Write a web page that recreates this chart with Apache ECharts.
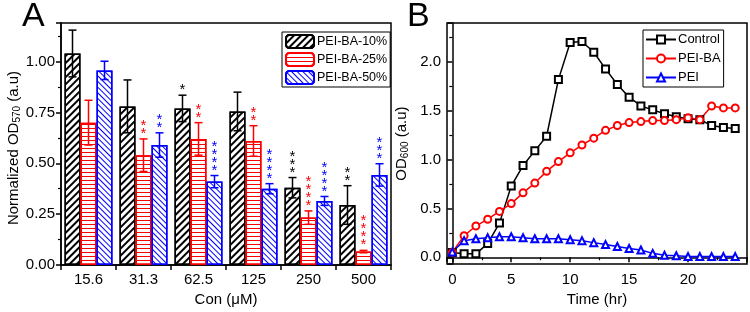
<!DOCTYPE html>
<html>
<head>
<meta charset="utf-8">
<script src="https://cdn.jsdelivr.net/npm/echarts@6/dist/echarts.min.js"></script>
<style>
html, body { margin: 0; padding: 0; background: #fff; }
#main { width: 750px; height: 312px; }
</style>
</head>
<body>
<div id="main"></div>
<script>
// panel A: cell viability
var concLabels = ['15.6', '31.3', '62.5', '125', '250', '500'];
var ba10 = [1.04, 0.78, 0.77, 0.755, 0.38, 0.295];
var ba10Err = [0.115, 0.13, 0.065, 0.095, 0.05, 0.095];
var ba25 = [0.70, 0.54, 0.62, 0.61, 0.233, 0.066];
var ba25Err = [0.11, 0.08, 0.08, 0.075, 0.033, 0.006];
var ba50 = [0.957, 0.59, 0.41, 0.375, 0.315, 0.443];
var ba50Err = [0.045, 0.06, 0.03, 0.025, 0.022, 0.055];
var ba10Stars = ['', '', '*', '', '***', '**'];
var ba25Stars = ['', '**', '**', '**', '****', '****'];
var ba50Stars = ['', '**', '****', '****', '****', '***'];

// panel B: growth curves
var hours = [0, 1, 2, 3, 4, 5, 6, 7, 8, 9, 10, 11, 12, 13, 14, 15, 16, 17, 18, 19, 20, 21, 22, 23, 24];
var control = [0.05, 0.035, 0.035, 0.14, 0.35, 0.73, 0.94, 1.09, 1.24, 1.82, 2.20, 2.21, 2.10, 1.93, 1.77, 1.64, 1.55, 1.51, 1.47, 1.44, 1.42, 1.41, 1.35, 1.33, 1.32];
var peiBA = [0.05, 0.22, 0.32, 0.39, 0.47, 0.55, 0.66, 0.76, 0.88, 0.98, 1.07, 1.15, 1.22, 1.30, 1.35, 1.38, 1.39, 1.40, 1.40, 1.41, 1.43, 1.41, 1.55, 1.53, 1.53];
var pei = [0.055, 0.17, 0.19, 0.20, 0.21, 0.21, 0.20, 0.19, 0.19, 0.19, 0.18, 0.17, 0.15, 0.13, 0.11, 0.09, 0.075, 0.04, 0.02, 0.015, 0.007, 0.007, 0.007, 0.007, 0.007];

var FONT = 'Liberation Sans';
var BAR_W = 16;

function pairs(xs, ys) {
    return xs.map(function (x, i) { return [x, ys[i]]; });
}

function errData(vals, errs) {
    return vals.map(function (v, i) { return [i, v, errs[i]]; });
}

var errRender = function (offset, color, stars) {
    return function (params, api) {
        var i = api.value(0), v = api.value(1), e = api.value(2);
        var hi = api.coord([i, v + e]);
        var lo = api.coord([i, v - e]);
        var x = hi[0] + offset;
        var st = { stroke: color, lineWidth: 1.5 };
        var kids = [
            { type: 'line', shape: { x1: x, y1: hi[1], x2: x, y2: lo[1] }, style: st },
            { type: 'line', shape: { x1: x - 4, y1: hi[1], x2: x + 4, y2: hi[1] }, style: st },
            { type: 'line', shape: { x1: x - 4, y1: lo[1], x2: x + 4, y2: lo[1] }, style: st }
        ];
        var s = stars[i];
        if (s) {
            kids.push({
                type: 'text', x: x, y: hi[1] - 1,
                style: {
                    text: s.split('').join('\n'), fill: color, align: 'center',
                    verticalAlign: 'bottom', fontSize: 15, fontFamily: FONT, lineHeight: 8
                }
            });
        }
        return { type: 'group', children: kids };
    };
};

var barSeries = function (name, vals, color, decal) {
    return {
        name: name, type: 'bar', xAxisIndex: 0, yAxisIndex: 0,
        barWidth: BAR_W, barGap: '0%',
        itemStyle: { color: '#fff', borderColor: color, borderWidth: 1.5, decal: decal },
        data: vals
    };
};

var errSeries = function (vals, errs, offset, color, stars) {
    return {
        type: 'custom', xAxisIndex: 0, yAxisIndex: 0,
        renderItem: errRender(offset, color, stars),
        data: errData(vals, errs), z: 5
    };
};

var lineSeries = function (name, ys, color, symbol) {
    return {
        name: name, type: 'line', xAxisIndex: 1, yAxisIndex: 1,
        symbol: symbol, symbolSize: 7,
        lineStyle: { color: color, width: 1.5 },
        itemStyle: { color: color, borderWidth: 1.5 },
        data: pairs(hours, ys)
    };
};

var axisText = { color: '#000', fontSize: 15, fontFamily: FONT };
var blackLine = { lineStyle: { color: '#000', width: 1.5 } };

var chart = echarts.init(document.getElementById('main'));
chart.setOption({
    animation: false,
    textStyle: { fontFamily: FONT },
    title: [
        { text: 'A', left: 22, top: 0, padding: 0, textStyle: { fontSize: 34, fontWeight: 'normal', color: '#000', fontFamily: FONT } },
        { text: 'B', left: 407, top: 0, padding: 0, textStyle: { fontSize: 34, fontWeight: 'normal', color: '#000', fontFamily: FONT } }
    ],
    grid: [
        { left: 61, top: 23, width: 330, height: 242, show: true, borderColor: '#000', borderWidth: 1.5, backgroundColor: 'transparent' },
        { left: 447, top: 23, width: 301, height: 242, show: true, borderColor: '#000', borderWidth: 1.5, backgroundColor: 'transparent' }
    ],
    legend: [
        {
            data: ['PEI-BA-10%', 'PEI-BA-25%', 'PEI-BA-50%'],
            orient: 'vertical', left: 282, top: 32,
            itemWidth: 28, itemHeight: 13, itemGap: 3, padding: [2, 3, 2, 3],
            borderColor: '#000', borderWidth: 1, borderRadius: 0,
            textStyle: { fontSize: 12.5, color: '#000', fontFamily: FONT, padding: [0, 0, 0, -2] }
        },
        {
            data: ['Control', 'PEI-BA', 'PEI'],
            orient: 'vertical', left: 643, top: 30,
            itemWidth: 30, itemHeight: 10, itemGap: 6, padding: [3, 3, 3, 2],
            borderColor: '#000', borderWidth: 1, borderRadius: 0,
            textStyle: { fontSize: 13, color: '#000', fontFamily: FONT, padding: [0, 0, 0, -3] }
        }
    ],
    xAxis: [
        {
            gridIndex: 0, type: 'category', data: concLabels,
            name: 'Con (\u03bcM)', nameLocation: 'middle', nameGap: 23, nameTextStyle: axisText,
            axisLine: blackLine,
            axisTick: { show: true, length: 5, lineStyle: { color: '#000', width: 1.5 } },
            axisLabel: { color: '#000', fontSize: 15, fontFamily: FONT, margin: 7 }
        },
        {
            gridIndex: 1, type: 'value', min: -0.45, max: 25,
            name: 'Time (hr)', nameLocation: 'middle', nameGap: 24, nameTextStyle: axisText,
            axisLine: blackLine,
            axisTick: { show: true, length: 5, lineStyle: { color: '#000', width: 1.5 } },
            minorTick: { show: true, splitNumber: 2, length: 3, lineStyle: { color: '#000', width: 1.2 } },
            splitLine: { show: false },
            axisLabel: {
                color: '#000', fontSize: 15, fontFamily: FONT, margin: 8,
                formatter: function (v) { return (v >= 0 && v <= 20 && v % 5 === 0) ? String(v) : ''; }
            }
        }
    ],
    yAxis: [
        {
            gridIndex: 0, type: 'value', min: 0, max: 1.19, interval: 0.25,
            name: 'Normalized OD{s|570} (a.u)', nameLocation: 'middle', nameGap: 39,
            nameTextStyle: {
                color: '#000', fontSize: 15, fontFamily: FONT, padding: [0, 8, 0, 0],
                rich: { s: { fontSize: 10, fontFamily: FONT, color: '#000', padding: [6, 0, 0, 0] } }
            },
            axisLine: { show: true, lineStyle: { color: '#000', width: 1.5 } },
            axisTick: { show: true, length: 5, lineStyle: { color: '#000', width: 1.5 } },
            minorTick: { show: true, splitNumber: 2, length: 3, lineStyle: { color: '#000', width: 1.2 } },
            splitLine: { show: false },
            axisLabel: {
                color: '#000', fontSize: 15, fontFamily: FONT, margin: 6,
                formatter: function (v) { return (Math.abs(v * 4 - Math.round(v * 4)) < 1e-6) ? v.toFixed(2) : ''; }
            }
        },
        {
            gridIndex: 1, type: 'value', min: -0.07, max: 2.4,
            name: 'OD{s|600} (a.u)', nameLocation: 'middle', nameGap: 37,
            nameTextStyle: {
                color: '#000', fontSize: 15, fontFamily: FONT,
                rich: { s: { fontSize: 10, fontFamily: FONT, color: '#000', padding: [6, 0, 0, 0] } }
            },
            axisLine: { show: true, lineStyle: { color: '#000', width: 1.5 } },
            axisTick: { show: true, length: 5, lineStyle: { color: '#000', width: 1.5 } },
            minorTick: { show: true, splitNumber: 2, length: 3, lineStyle: { color: '#000', width: 1.2 } },
            splitLine: { show: false },
            axisLabel: {
                color: '#000', fontSize: 15, fontFamily: FONT, margin: 6,
                formatter: function (v) { return (v >= 0 && Math.abs(v * 2 - Math.round(v * 2)) < 1e-6) ? v.toFixed(1) : ''; }
            }
        }
    ],
    series: [
        barSeries('PEI-BA-10%', ba10, '#000', { symbol: 'rect', symbolSize: 1, dashArrayX: [1, 0], dashArrayY: [2, 3], rotation: -Math.PI / 4, color: '#000' }),
        barSeries('PEI-BA-25%', ba25, '#ff0000', { symbol: 'rect', symbolSize: 1, dashArrayX: [1, 0], dashArrayY: [1, 3], rotation: 0, color: '#ff0000' }),
        barSeries('PEI-BA-50%', ba50, '#0000ff', { symbol: 'rect', symbolSize: 1, dashArrayX: [1, 0], dashArrayY: [1, 3], rotation: Math.PI / 4, color: '#0000ff' }),
        errSeries(ba10, ba10Err, -BAR_W, '#000', ba10Stars),
        errSeries(ba25, ba25Err, 0, '#ff0000', ba25Stars),
        errSeries(ba50, ba50Err, BAR_W, '#0000ff', ba50Stars),
        lineSeries('Control', control, '#000', 'emptyRect'),
        lineSeries('PEI-BA', peiBA, '#ff0000', 'emptyCircle'),
        lineSeries('PEI', pei, '#0000ff', 'emptyTriangle')
    ]
});
</script>
</body>
</html>
